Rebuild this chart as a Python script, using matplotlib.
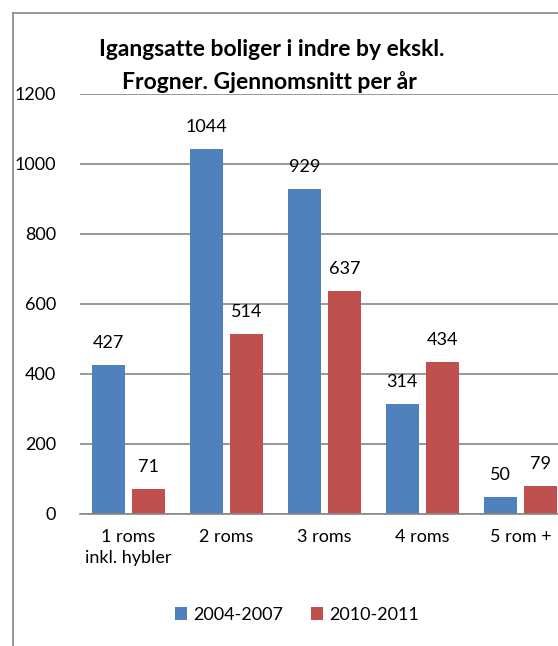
import matplotlib.pyplot as plt
import matplotlib.lines as mlines
import numpy as np

plt.rcParams['font.family'] = ['Lato', 'DejaVu Sans']

categories = ['1 roms\ninkl. hybler', '2 roms', '3 roms', '4 roms', '5 rom +']
s1_name = '2004-2007'
s2_name = '2010-2011'
s1 = [427, 1044, 929, 314, 50]
s2 = [71, 514, 637, 434, 79]
yticks = [0, 200, 400, 600, 800, 1000, 1200]

blue = '#4F81BD'
red = '#C0504D'
grid_c = '#868686'
fs = 13

W, H = 558, 646
fig = plt.figure(figsize=(W/100, H/100), dpi=100)

# outer frame: only left and top edges are visible in the cropped chart
fx, fy = 12.5/W, 1 - 12.5/H
fig.lines.append(mlines.Line2D([fx, fx], [0, fy], transform=fig.transFigure,
                               color=grid_c, linewidth=1.2))
fig.lines.append(mlines.Line2D([fx, 1], [fy, fy], transform=fig.transFigure,
                               color=grid_c, linewidth=1.2))

# plot area: 0 at y=514, 1200 at y=94, x from 79.5 to 569.5 (beyond the edge)
ax = fig.add_axes([79.5/W, 1 - 514/H, 490/W, 420/H])

x = np.arange(len(categories))
bw = 0.337
off = 0.207
b1 = ax.bar(x - off, s1, bw, color=blue, label=s1_name, zorder=3)
b2 = ax.bar(x + off, s2, bw, color=red, label=s2_name, zorder=3)

for bars, vals in ((b1, s1), (b2, s2)):
    for b, v in zip(bars, vals):
        ax.annotate(str(v), (b.get_x() + b.get_width()/2, v),
                    xytext=(0, 10), textcoords='offset points',
                    ha='center', va='bottom', fontsize=fs)

ax.set_ylim(0, 1200)
ax.set_xlim(-0.5, len(categories) - 0.5)
ax.set_yticks(yticks)
ax.set_xticks(x)
ax.set_xticklabels(categories, fontsize=fs, linespacing=1.35)
ax.tick_params(axis='y', length=0, pad=17, labelsize=fs)
ax.tick_params(axis='x', length=0, pad=11)
ax.yaxis.grid(True, color=grid_c, linewidth=1.2, zorder=0)
for s in ['top', 'right', 'left']:
    ax.spines[s].set_visible(False)
ax.spines['bottom'].set_color(grid_c)
ax.spines['bottom'].set_linewidth(1.2)
ax.spines['bottom'].set_zorder(4)

fig.text(272/W, 1 - 50/H, 'Igangsatte boliger i indre by ekskl.',
         ha='center', va='center', fontsize=16.5, fontweight='bold')
fig.text(269/W, 1 - 82/H, 'Frogner. Gjennomsnitt per år',
         ha='center', va='center', fontsize=16.5, fontweight='bold')

fig.legend(handles=[b1, b2], loc='center', bbox_to_anchor=(297/W, 1 - 615/H),
           ncol=2, frameon=False, fontsize=fs, handlelength=0.7,
           handleheight=0.7, handletextpad=0.35, columnspacing=1.5)

fig.savefig('out.png', dpi=100)
